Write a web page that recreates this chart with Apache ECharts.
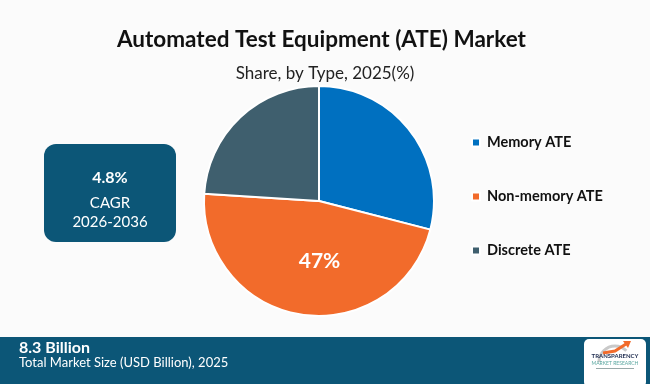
<!DOCTYPE html>
<html>
<head>
<meta charset="utf-8">
<script src="https://cdn.jsdelivr.net/npm/echarts@6/dist/echarts.min.js"></script>
<style>
html,body{margin:0;padding:0;background:#fbfbfb;}
#c{width:650px;height:384px;}
</style>
</head>
<body>
<div id="c"></div>
<script>
var categories = ["Memory ATE", "Non-memory ATE", "Discrete ATE"];
var shares = [29, 47, 24];
var colors = ["#0070c0", "#f26b2b", "#3f5f6e"];
var shownLabels = ["Non-memory ATE"];
var titleText = "Automated Test Equipment (ATE) Market";
var subtitleText = "Share, by Type, 2025(%)";
var cagrValue = "4.8%";
var cagrLabel = "CAGR";
var cagrPeriod = "2026-2036";
var marketValue = "8.3 Billion";
var marketLabel = "Total Market Size (USD Billion), 2025";

var chart = echarts.init(document.getElementById('c'), null, {renderer: 'canvas'});
var data = categories.map(function (c, i) {
  return {
    name: c,
    value: shares[i],
    itemStyle: {color: colors[i]},
    label: {show: shownLabels.indexOf(c) >= 0}
  };
});
var teal = "#0c5677";
chart.setOption({
  backgroundColor: "#fbfbfb",
  title: [{
    text: titleText,
    left: 112,
    top: 23,
    textStyle: {fontFamily: 'Lato', fontWeight: 'bold', fontSize: 22.5, color: '#111'}
  }, {
    text: subtitleText,
    left: 'center',
    top: 60,
    textStyle: {fontFamily: 'Lato', fontWeight: 'normal', fontSize: 17, color: '#222'}
  }],
  legend: {
    orient: 'vertical',
    left: 466,
    top: 130,
    itemGap: 39,
    itemWidth: 8,
    itemHeight: 8,
    icon: 'rect',
    textStyle: {fontFamily: 'Lato', fontWeight: 'bold', fontSize: 14.5, color: '#111', padding: [0, 0, 0, 2]},
    data: categories
  },
  series: [{
    type: 'pie',
    center: [319, 201],
    radius: [0, 115],
    startAngle: 90,
    clockwise: true,
    silent: true,
    itemStyle: {borderColor: '#ffffff', borderWidth: 2},
    label: {
      position: 'inside',
      formatter: '{c}%',
      color: '#fff',
      fontFamily: 'Lato',
      fontWeight: 'bold',
      fontSize: 21,
      offset: [10, 0]
    },
    labelLine: {show: false},
    data: data
  }],
  graphic: [
    {type: 'rect', shape: {x: 44, y: 144, width: 132, height: 98, r: 12}, style: {fill: teal}},
    {type: 'text', x: 110, y: 178, style: {text: cagrValue, fill: '#fff', font: 'bold 16px Lato', align: 'center', verticalAlign: 'middle'}},
    {type: 'text', x: 110, y: 203, style: {text: cagrLabel, fill: '#fff', font: '15px Lato', align: 'center', verticalAlign: 'middle'}},
    {type: 'text', x: 110, y: 222, style: {text: cagrPeriod, fill: '#fff', font: '15px Lato', align: 'center', verticalAlign: 'middle'}},
    {type: 'rect', shape: {x: 0, y: 337, width: 650, height: 47}, style: {fill: teal}},
    {type: 'text', x: 19, y: 348, style: {text: marketValue, fill: '#fff', font: 'bold 16px Lato', verticalAlign: 'middle'}},
    {type: 'text', x: 19, y: 363, style: {text: marketLabel, fill: '#fff', font: '13px Lato', verticalAlign: 'middle'}},
    {type: 'rect', shape: {x: 584, y: 339, width: 62, height: 48, r: 5}, style: {fill: '#ffffff'}},
    {type: 'arc', shape: {cx: 615, cy: 362, r: 16, startAngle: Math.PI * 1.0, endAngle: Math.PI * 1.75}, style: {stroke: '#c9c9c9', lineWidth: 3, fill: null}},
    {type: 'polyline', shape: {points: [[603, 353], [615, 351], [626, 344]]}, style: {stroke: '#f26b2b', lineWidth: 3, fill: null}},
    {type: 'polygon', shape: {points: [[623, 341], [631, 341], [628, 348]]}, style: {fill: '#f26b2b'}},
    {type: 'text', x: 615, y: 356, style: {text: 'TRANSPARENCY', fill: '#1d2b4f', font: 'bold 6px Lato', align: 'center', verticalAlign: 'middle'}},
    {type: 'text', x: 615, y: 363, style: {text: 'MARKET RESEARCH', fill: '#5aa7a0', font: '5px Lato', align: 'center', verticalAlign: 'middle'}},
    {type: 'rect', shape: {x: 596, y: 368, width: 38, height: 1}, style: {fill: '#9aa'}}
  ]
});
</script>
</body>
</html>
